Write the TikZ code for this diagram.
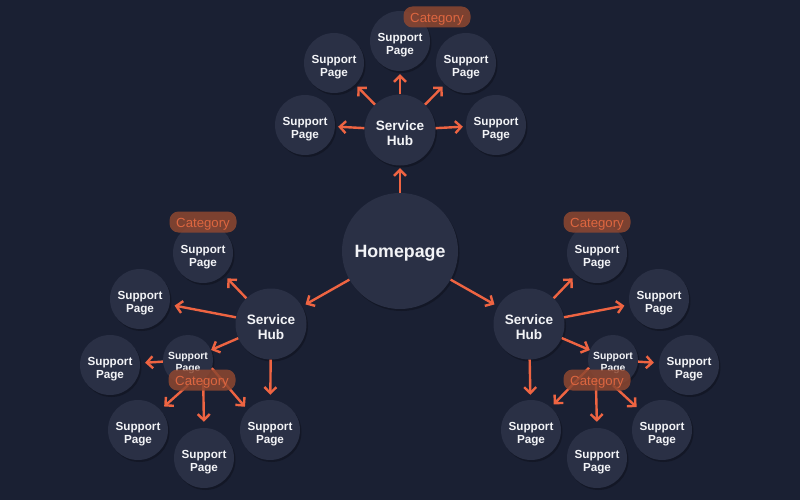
\documentclass[tikz,border=0pt]{standalone}
\usepackage{fontspec}
\setmainfont{Liberation Sans}
\usetikzlibrary{arrows.meta,shadows}
\definecolor{bgc}{HTML}{1A2033}
\definecolor{disc}{HTML}{2A3045}
\definecolor{ora}{HTML}{EE6442}
\definecolor{catfill}{HTML}{8E4730}
\definecolor{cattext}{HTML}{DD6640}
\definecolor{lab}{HTML}{F2F3F6}
\newcommand\shiftedtxt[2]{\raisebox{-#1}[\height][\depth]{\begin{tabular}{@{}c@{}}#2\end{tabular}}}
\newcommand\spg{\shiftedtxt{4.8pt}{Support\\Page}}
\newcommand\spgs{\shiftedtxt{3.2pt}{Support\\Page}}
\newcommand\shb{\shiftedtxt{5pt}{Service\\Hub}}
\newcommand\ctg{\raisebox{-2.5pt}[\height][\depth]{Category}}
\tikzset{
  disc/.style={circle,fill=disc,inner sep=0pt,text=lab,font=\bfseries,
    drop shadow={shadow xshift=1.5pt,shadow yshift=-2pt,opacity=.25,fill=black}},
  pagenode/.style={disc,minimum size=60pt,font=\bfseries\fontsize{11.7}{13}\selectfont},
  smallnode/.style={disc,minimum size=50pt,font=\bfseries\fontsize{10.4}{11.7}\selectfont},
  hubnode/.style={disc,minimum size=71pt,font=\bfseries\fontsize{13.6}{15.4}\selectfont},
  homenode/.style={disc,minimum size=116pt,font=\bfseries\fontsize{17.8}{20}\selectfont},
  catnode/.style={rounded corners=9pt,fill=catfill,fill opacity=.85,text opacity=1,text=cattext,
    minimum width=67pt,minimum height=21pt,inner sep=0pt,font=\fontsize{13.2}{14}\selectfont},
  link/.style={draw=ora,line width=2.4pt,-{Straight Barb[length=6pt,width=12pt,line width=2.4pt]}},
  gap/.style={shorten >=#1},
}
\begin{document}
\begin{tikzpicture}[x=1pt,y=-1pt]
\useasboundingbox (0,0) rectangle (800,500);
\fill[bgc] (0,0) rectangle (800,500);
% main nodes
\node[homenode] (home) at (400,251) {\raisebox{-2.5pt}[\height][\depth]{Homepage}};
\node[hubnode] (hubT) at (400,130) {\shb};
\node[hubnode] (hubL) at (271,324) {\shb};
\node[hubnode] (hubR) at (529,324) {\shb};
% top group
\node[pagenode] (t1) at (305,125) {\spg};
\node[pagenode] (t2) at (334,63) {\spg};
\node[pagenode] (t3) at (400,41) {\spg};
\node[pagenode] (t4) at (466,63) {\spg};
\node[pagenode] (t5) at (496,125) {\spg};
% left group
\node[pagenode] (l1) at (203,253) {\spg};
\node[pagenode] (l2) at (140,299) {\spg};
\node[smallnode] (l3) at (188,360) {\spgs};
\node[pagenode] (l4) at (110,365) {\spg};
\node[pagenode] (l5) at (138,430) {\spg};
\node[pagenode] (l6) at (204,458) {\spg};
\node[pagenode] (l7) at (270,430) {\spg};
% right group
\node[pagenode] (r1) at (597,253) {\spg};
\node[pagenode] (r2) at (659,299) {\spg};
\node[smallnode] (r3) at (613,360) {\spgs};
\node[pagenode] (r4) at (689,365) {\spg};
\node[pagenode] (r5) at (531,430) {\spg};
\node[pagenode] (r6) at (597,458) {\spg};
\node[pagenode] (r7) at (662,430) {\spg};
% connectors
\draw[link,gap=2.5pt] (home) -- (hubT);
\draw[link,gap=4pt] (home) -- (hubL);
\draw[link,gap=4pt] (home) -- (hubR);
\foreach \p in {t1,t2,t3,t4,t5} {\draw[link,gap=3pt] (hubT) -- (\p);}
\foreach \p in {l1,l2,l7} {\draw[link,gap=5pt] (hubL) -- (\p);}
\foreach \p in {r1,r2,r5} {\draw[link,gap=5pt] (hubR) -- (\p);}
\draw[link] (hubL) -- (l3);
\draw[link] (hubR) -- (r3);
\draw[link,gap=5pt] (l3) -- (l4);
\draw[link,gap=5pt] (r3) -- (r4);
\draw[link,gap=5pt] (l3.south) -- (l5.42);
\draw[link,gap=6pt] (l3.-53) -- (l6.north);
\draw[link,gap=4pt] (l3.-19) -- (l7.138);
\draw[link,gap=4pt] (r3.198) -- (r5.49);
\draw[link,gap=6pt] (r3.-133) -- (r6.north);
\draw[link,gap=4pt] (r3.south) -- (r7.138);
% category tags
\node[catnode] (ct) at (437,17) {\ctg};
\node[catnode] (cl1) at (203,222) {\ctg};
\node[catnode] (cl2) at (202,380) {\ctg};
\node[catnode] (cr1) at (597,222) {\ctg};
\node[catnode] (cr2) at (597,380) {\ctg};
\end{tikzpicture}
\end{document}
